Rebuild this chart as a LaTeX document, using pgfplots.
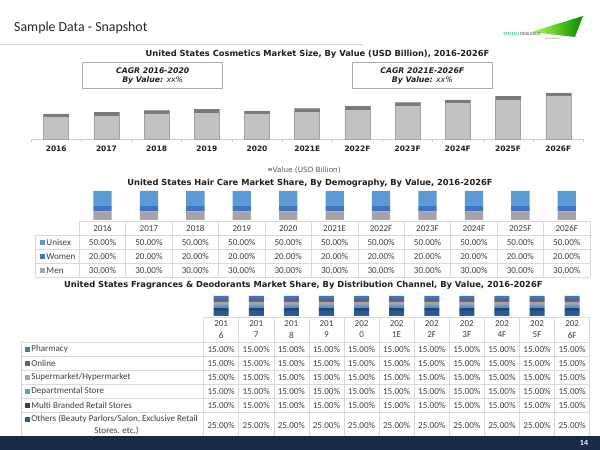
\documentclass[border=0pt]{standalone}
\usepackage{pgfplots}
\pgfplotsset{compat=1.18}
\usepackage{pgfplotstable}
\usepackage{fontspec}
\setmainfont{Carlito}
\newfontfamily\verd{DejaVu Sans}

\definecolor{barbody}{HTML}{C2C2C2}
\definecolor{baredge}{HTML}{A3A3A3}
\definecolor{barcap}{HTML}{7A7A7A}
\definecolor{unisex}{HTML}{5B9BD5}
\definecolor{women}{HTML}{4472C4}
\definecolor{men}{HTML}{A5A5A5}
\definecolor{pharm}{HTML}{4472C4}
\definecolor{online}{HTML}{636363}
\definecolor{superm}{HTML}{A5A5A5}
\definecolor{dept}{HTML}{5B9BD5}
\definecolor{multi}{HTML}{264478}
\definecolor{others}{HTML}{255E91}
\definecolor{gridc}{HTML}{D9D9D9}
\definecolor{navy}{HTML}{172A45}
\definecolor{txt}{HTML}{404040}

\pgfdeclareplotmark{cap}{%
  \pgfpathrectangle{\pgfpoint{-12.5bp}{-3.5bp}}{\pgfpoint{25bp}{3.5bp}}%
  \pgfusepathqfill}

\pgfplotstableread{
x v
0 25.3
1 27.0
2 28.6
3 29.8
4 28.3
5 30.6
6 33.0
7 36.6
8 39.3
9 43.0
10 46.3
}\cosm

\pgfplotstableread{
x men women unisex
0 30 20 50
1 30 20 50
2 30 20 50
3 30 20 50
4 30 20 50
5 30 20 50
6 30 20 50
7 30 20 50
8 30 20 50
9 30 20 50
10 30 20 50
}\hair

\pgfplotstableread{
x others multi dept superm online pharm
0 25 15 15 15 15 15
1 25 15 15 15 15 15
2 25 15 15 15 15 15
3 25 15 15 15 15 15
4 25 15 15 15 15 15
5 25 15 15 15 15 15
6 25 15 15 15 15 15
7 25 15 15 15 15 15
8 25 15 15 15 15 15
9 25 15 15 15 15 15
10 25 15 15 15 15 15
}\frag

\newcommand\ttl{\verd\bfseries\fontsize{8.35}{10}\selectfont}
\newcommand\tbl{\fontsize{9.1}{10.5}\selectfont}

\begin{document}
\begin{tikzpicture}
\fill[white] (0,0) rectangle (600bp,450bp);
\useasboundingbox (0,0) rectangle (600bp,450bp);

% ---------- Chart 1: cosmetics market size
\begin{axis}[
  at={(31.1bp,310.7bp)}, anchor=south west,
  scale only axis, width=552.3bp, height=60bp,
  xmin=-0.5, xmax=10.5, ymin=0, ymax=60,
  axis y line=none, axis x line*=bottom,
  x axis line style={draw=gray!40, line width=0.7bp},
  xtick={0,...,10},
  xticklabels={2016,2017,2018,2019,2020,2021E,2022F,2023F,2024F,2025F,2026F},
  major tick length=0pt,
  minor xtick={-0.5,0.5,...,10.5}, minor tick length=2.5bp,
  tick align=outside,
  minor tick style={draw=gray!40, line width=0.6bp},
  xticklabel style={font=\verd\bfseries\fontsize{7.5}{9}\selectfont, text=black!88, yshift=-3bp},
  clip=false,
]
\addplot[ybar, bar width=25bp, bar shift=0pt, fill=barbody, draw=baredge, line width=0.6bp]
  table[x=x, y=v] {\cosm};
\addplot[only marks, mark=cap, mark options={fill=barcap, draw=none}]
  table[x=x, y=v] {\cosm};
\end{axis}

% ---------- Chart 2: hair care
\begin{axis}[
  at={(79.3bp,230bp)}, anchor=south west,
  scale only axis, width=510.7bp, height=29bp,
  xmin=-0.5, xmax=10.5, ymin=0, ymax=100,
  hide axis, ybar stacked, bar width=18.3bp, clip=false,
]
\addplot[fill=men, draw=none] table[x=x, y=men] {\hair};
\addplot[fill=women, draw=none] table[x=x, y=women] {\hair};
\addplot[fill=unisex, draw=none] table[x=x, y=unisex] {\hair};
\end{axis}

% ---------- Chart 3: fragrances
\begin{axis}[
  at={(203.6bp,134bp)}, anchor=south west,
  scale only axis, width=386.1bp, height=20bp,
  xmin=-0.5, xmax=10.5, ymin=0, ymax=100,
  hide axis, ybar stacked, bar width=15bp, clip=false,
]
\addplot[fill=others, draw=none] table[x=x, y=others] {\frag};
\addplot[fill=multi, draw=none] table[x=x, y=multi] {\frag};
\addplot[fill=dept, draw=none] table[x=x, y=dept] {\frag};
\addplot[fill=superm, draw=none] table[x=x, y=superm] {\frag};
\addplot[fill=online, draw=none] table[x=x, y=online] {\frag};
\addplot[fill=pharm, draw=none] table[x=x, y=pharm] {\frag};
\end{axis}

\begin{scope}[x=1bp, y=-1bp, yshift=450bp]
% header
\node[anchor=west, inner sep=0, text=black!85, font=\fontsize{13.9}{15}\selectfont] at (14,28) {Sample Data - Snapshot};
\draw[gray!35, line width=0.9bp] (0,44) -- (363,44);
% logo
\shade[left color=green!35!yellow!70, right color=green!55!black] (531,32) -- (583,16) -- (575,37) -- cycle;
\node[anchor=west, inner sep=0, font=\fontsize{4.8}{5}\selectfont] at (503,33.5) {\textcolor{teal!70!green}{TECHSCI} \textcolor{black!70}{RESEARCH}};
\node[anchor=west, inner sep=0, font=\itshape\fontsize{2.8}{3}\selectfont, text=black!55] at (545,39) {grow with us};

% chart 1 texts
\node[inner sep=0, text=black!88, font=\ttl] at (317.5,54.5) {United States Cosmetics Market Size, By Value (USD Billion), 2016-2026F};
\draw[gray!65, line width=0.6bp, fill=white] (82.7,62.3) rectangle (222.7,88);
\draw[gray!65, line width=0.6bp, fill=white] (352.3,62.3) rectangle (492.3,88);
\node[inner sep=0, text=black!88, font=\verd\bfseries\itshape\fontsize{7.8}{9}\selectfont] at (152.7,71) {CAGR 2016-2020};
\node[inner sep=0, text=black!88, font=\verd\itshape\fontsize{7.8}{9}\selectfont] at (152.7,80.7) {\textbf{By Value:} xx\%};
\node[inner sep=0, text=black!88, font=\verd\bfseries\itshape\fontsize{7.8}{9}\selectfont] at (422.3,71) {CAGR 2021E-2026F};
\node[inner sep=0, text=black!88, font=\verd\itshape\fontsize{7.8}{9}\selectfont] at (422.3,80.7) {\textbf{By Value:} xx\%};
% legend
\fill[baredge] (268,168) rectangle (271.5,171.5);
\node[anchor=west, inner sep=0, text=black!65, font=\verd\fontsize{7.3}{8}\selectfont] at (272.5,170) {Value (USD Billion)};

% chart 2 texts
\node[inner sep=0, text=black!88, font=\ttl] at (310,183.3) {United States Hair Care Market Share, By Demography, By Value, 2016-2026F};
\foreach \k in {0,...,11} {\draw[gridc, line width=0.6bp] ({79.3+46.43*\k},221) -- ({79.3+46.43*\k},277.3);}
\draw[gridc, line width=0.6bp] (79.3,221) -- (590,221);
\foreach \yy in {235.3,249.3,263.3,277.3} {\draw[gridc, line width=0.6bp] (35.7,\yy) -- (590,\yy);}
\draw[gridc, line width=0.6bp] (35.7,235.3) -- (35.7,277.3);
\foreach \i/\lab in {0/2016,1/2017,2/2018,3/2019,4/2020,5/2021E,6/2022F,7/2023F,8/2024F,9/2025F,10/2026F} {
  \node[inner sep=0, text=txt, font=\tbl] at ({102.5+46.43*\i},228.3) {\lab};
  \node[inner sep=0, text=txt, font=\tbl] at ({102.5+46.43*\i},242.3) {50.00\%};
  \node[inner sep=0, text=txt, font=\tbl] at ({102.5+46.43*\i},256.3) {20.00\%};
  \node[inner sep=0, text=txt, font=\tbl] at ({102.5+46.43*\i},270.3) {30.00\%};
}
\foreach \yy/\c/\lab in {242.3/unisex/Unisex, 256.3/women/Women, 270.3/men/Men} {
  \fill[\c] (40,\yy-2.3) rectangle (44.6,\yy+2.3);
  \node[anchor=west, inner sep=0, text=txt, font=\tbl] at (46.3,\yy) {\lab};
}

% chart 3 texts
\node[inner sep=0, text=black!88, font=\ttl] at (303.3,285) {United States Fragrances \& Deodorants Market Share, By Distribution Channel, By Value, 2016-2026F};
\foreach \k in {0,...,11} {\draw[gridc, line width=0.6bp] ({203.6+35.1*\k},317.7) -- ({203.6+35.1*\k},437);}
\draw[gridc, line width=0.6bp] (203.6,317.7) -- (589.7,317.7);
\foreach \yy in {342.3,356.3,370.3,384.3,398.3,412.3} {\draw[gridc, line width=0.6bp] (21.7,\yy) -- (589.7,\yy);}
\draw[gridc, line width=0.6bp] (21.7,342.3) -- (21.7,437);
\foreach \i/\a/\b in {0/201/6,1/201/7,2/201/8,3/201/9,4/202/0,5/202/1E,6/202/2F,7/202/3F,8/202/4F,9/202/5F,10/202/6F} {
  \node[inner sep=0, text=txt, font=\tbl] at ({221.15+35.1*\i},323.5) {\a};
  \node[inner sep=0, text=txt, font=\tbl] at ({221.15+35.1*\i},335) {\b};
  \foreach \yy in {349.3,363.3,377.3,391.3,405.3} {
    \node[inner sep=0, text=txt, font=\tbl] at ({221.15+35.1*\i},\yy) {15.00\%};
  }
  \node[inner sep=0, text=txt, font=\tbl] at ({221.15+35.1*\i},425.7) {25.00\%};
}
\foreach \yy/\c/\lab in {349.3/pharm/Pharmacy, 363.3/online/Online, 377.3/superm/Supermarket\slash Hypermarket, 391.3/dept/Departmental Store, 405.3/multi/Multi Branded Retail Stores, 419.3/others/{Others (Beauty Parlors/Salon, Exclusive Retail}} {
  \fill[\c] (25,\yy-2.3) rectangle (29.6,\yy+2.3);
  \node[anchor=west, inner sep=0, text=txt, font=\tbl] at (31.2,\yy) {\lab};
}
\node[inner sep=0, text=txt, font=\tbl] at (116.5,430.8) {Stores. etc.)};

% footer
\fill[navy] (0,436) rectangle (600,450);
\node[inner sep=0, text=white, font=\bfseries\fontsize{8}{9}\selectfont] at (584,443) {14};
\end{scope}
\end{tikzpicture}
\end{document}
